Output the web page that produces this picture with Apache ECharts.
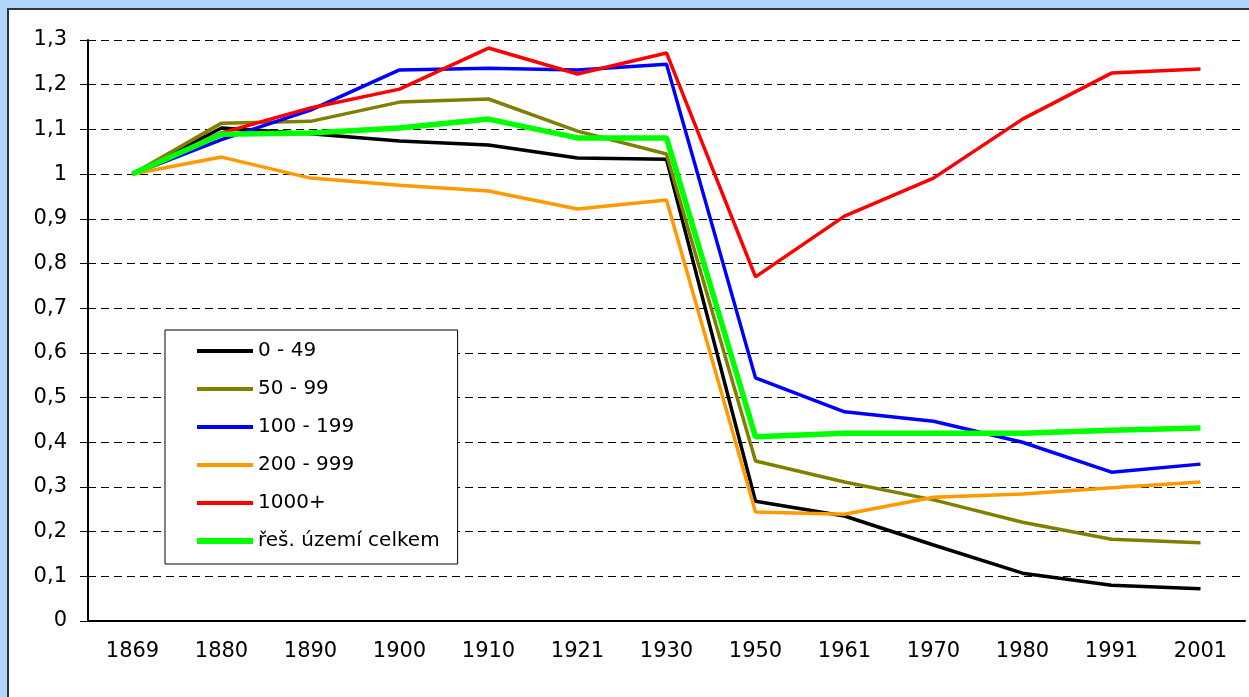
<!DOCTYPE html>
<html>
<head>
<meta charset="utf-8">
<script src="https://cdn.jsdelivr.net/npm/echarts@6/dist/echarts.min.js"></script>
<style>
  html, body { margin: 0; padding: 0; background: #b0d4fc; }
  #main { width: 1249px; height: 697px; }
</style>
</head>
<body>
<div id="main"></div>
<script>
var myChart = echarts.init(document.getElementById('main'));

// census years
const years = ['1869', '1880', '1890', '1900', '1910', '1921', '1930', '1950', '1961', '1970', '1980', '1991', '2001'];

// index of population, 1869 = 1
const s0_49 = [1.0, 1.103, 1.09, 1.074, 1.065, 1.036, 1.033, 0.268, 0.235, 0.17, 0.107, 0.08, 0.072];
const s50_99 = [1.0, 1.114, 1.118, 1.161, 1.168, 1.096, 1.045, 0.358, 0.311, 0.271, 0.221, 0.183, 0.175];
const s100_199 = [1.0, 1.077, 1.143, 1.233, 1.237, 1.233, 1.246, 0.544, 0.468, 0.447, 0.40, 0.333, 0.351];
const s200_999 = [1.0, 1.038, 0.991, 0.975, 0.962, 0.922, 0.942, 0.244, 0.239, 0.277, 0.284, 0.298, 0.311];
const s1000 = [1.0, 1.092, 1.148, 1.19, 1.282, 1.224, 1.271, 0.77, 0.906, 0.991, 1.123, 1.226, 1.235];
const sTotal = [1.0, 1.089, 1.092, 1.103, 1.123, 1.081, 1.081, 0.412, 0.42, 0.42, 0.42, 0.427, 0.432];

const names = ['0 - 49', '50 - 99', '100 - 199', '200 - 999', '1000+', 'řeš. území celkem'];

const font = 'DejaVu Sans';

function lineSeries(name, data, color, width) {
  return {
    name: name,
    type: 'line',
    data: data,
    symbol: 'none',
    lineStyle: { color: color, width: width },
    itemStyle: { color: color }
  };
}

const option = {
  backgroundColor: '#b0d4fc',
  animation: false,
  graphic: [
    {
      type: 'rect',
      z: -10,
      shape: { x: 8, y: 9, width: 1400, height: 900 },
      style: { fill: '#fff', stroke: '#333', lineWidth: 2 }
    }
  ],
  grid: { left: 88, top: 40, right: 4, bottom: 76 },
  legend: {
    orient: 'vertical',
    left: 165,
    top: 330,
    padding: [11, 18, 13, 29],
    itemGap: 18,
    itemWidth: 56,
    itemHeight: 14,
    itemStyle: { opacity: 0 },
    backgroundColor: '#fff',
    borderColor: '#000',
    borderWidth: 1,
    textStyle: { fontFamily: font, fontSize: 20, color: '#000' },
    data: names.map(function (n, i) {
      return { name: n, lineStyle: { width: i === 5 ? 6 : 4 } };
    })
  },
  xAxis: {
    type: 'category',
    data: years,
    boundaryGap: true,
    axisLine: { lineStyle: { color: '#000', width: 2 } },
    axisTick: { length: 7, lineStyle: { color: '#000', width: 1 } },
    axisLabel: { fontFamily: font, fontSize: 21, color: '#000', margin: 20 },
    splitLine: { show: false }
  },
  yAxis: {
    type: 'value',
    min: 0,
    max: 1.3,
    interval: 0.1,
    axisLine: { show: true, lineStyle: { color: '#000', width: 2 } },
    axisTick: { show: true, length: 8, lineStyle: { color: '#000', width: 1 } },
    axisLabel: {
      fontFamily: font,
      fontSize: 21,
      color: '#000',
      margin: 21,
      formatter: function (v) { return String(+v.toFixed(1)).replace('.', ','); }
    },
    splitLine: { lineStyle: { color: '#000', type: [8, 5], width: 1 } }
  },
  series: [
    lineSeries(names[0], s0_49, '#000000', 3.5),
    lineSeries(names[1], s50_99, '#808000', 3.5),
    lineSeries(names[2], s100_199, '#0000ff', 3.5),
    lineSeries(names[3], s200_999, '#ff9900', 3.5),
    lineSeries(names[4], s1000, '#ff0000', 3.5),
    lineSeries(names[5], sTotal, '#00ff00', 5.5)
  ]
};

myChart.setOption(option);
</script>
</body>
</html>
